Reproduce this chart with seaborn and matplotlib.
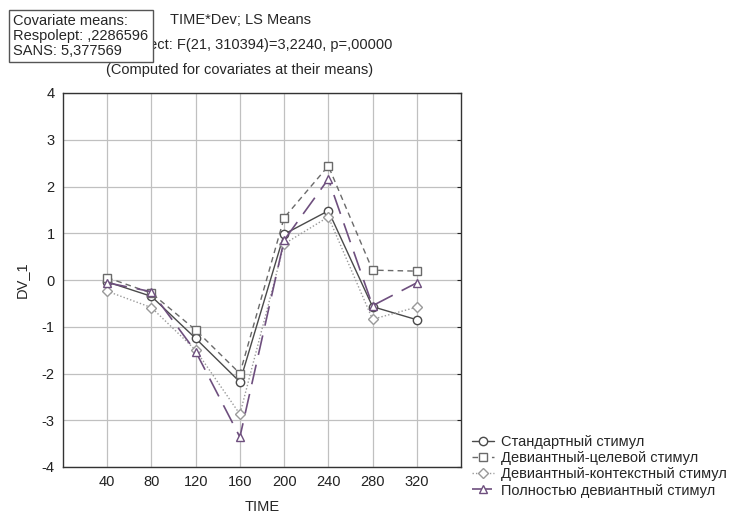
import numpy as np
import pandas as pd
import matplotlib
matplotlib.use("Agg")
import matplotlib.pyplot as plt
import seaborn as sns

time = [40, 80, 120, 160, 200, 240, 280, 320]
standard = [-0.04, -0.35, -1.25, -2.18, 0.98, 1.48, -0.57, -0.85]
target = [0.05, -0.28, -1.07, -2.0, 1.33, 2.44, 0.21, 0.19]
context = [-0.24, -0.59, -1.5, -2.87, 0.77, 1.35, -0.84, -0.58]
deviant = [-0.06, -0.25, -1.53, -3.36, 0.85, 2.16, -0.55, -0.06]

names = ["Стандартный стимул", "Девиантный-целевой стимул",
         "Девиантный-контекстный стимул", "Полностью девиантный стимул"]

sns.set_style("white")
plt.rcParams['font.family'] = ['Liberation Sans', 'DejaVu Sans']
plt.rcParams['axes.unicode_minus'] = False

fig = plt.figure(figsize=(7.29, 5.15), dpi=100)
ax = fig.add_axes([63/729, 48/515, 398/729, 374/515])

styles = [
    dict(color="#4a4a4a", ls="-", marker="o", lw=1.0),
    dict(color="#6a6a6a", ls=(0, (4, 3)), marker="s", lw=1.0),
    dict(color="#9a9a9a", ls=(0, (1, 1.5)), marker="D", lw=1.0),
    dict(color="#6e4f7e", ls=(0, (12, 6)), marker="^", lw=1.2),
]
series = [standard, target, context, deviant]

for vals, nm, st in zip(series, names, styles):
    df = pd.DataFrame({"TIME": time, "DV_1": vals})
    ms = 5 if st["marker"] == "D" else 6
    sns.lineplot(data=df, x="TIME", y="DV_1", ax=ax, color=st["color"],
                 linestyle=st["ls"], lw=st["lw"], marker=st["marker"],
                 markersize=ms, markerfacecolor="white",
                 markeredgecolor=st["color"], markeredgewidth=1.0, label=nm)

ax.set_xlim(0, 360)
ax.set_ylim(-4, 4)
ax.set_xticks(time)
ax.set_yticks(range(-4, 5))
ax.grid(True, color="#c0c0c0", lw=0.9)
ax.tick_params(direction="in", length=3, labelsize=10.5, right=True, top=False,
               colors="#222222", pad=6)
for s in ax.spines.values():
    s.set_color("#333333")
    s.set_linewidth(1.0)
ax.set_xlabel("TIME", fontsize=10.5, labelpad=8)
ax.set_ylabel("DV_1", fontsize=10.5, labelpad=9)

h, l = ax.get_legend_handles_labels()
ax.get_legend().remove()
fig.legend(h, l, loc="upper left", bbox_to_anchor=(472/729, 1 - 435/515),
           frameon=False, fontsize=10.5, handlelength=1.5, handletextpad=0.5,
           labelspacing=0.15, borderaxespad=0, borderpad=0)

fig.text(240/729, 1 - 20/515, "TIME*Dev; LS Means", ha="center", va="center", fontsize=10.5)
fig.text(236/729, 1 - 45/515, "Current effect: F(21, 310394)=3,2240, p=,00000",
         ha="center", va="center", fontsize=10.5)
fig.text(240/729, 1 - 70/515, "(Computed for covariates at their means)",
         ha="center", va="center", fontsize=10.5)
fig.text(13/729, 1 - 36/515, "Covariate means:\nRespolept: ,2286596\nSANS: 5,377569",
         ha="left", va="center", fontsize=10.5, linespacing=1.1,
         bbox=dict(boxstyle="square,pad=0.3", fc="white", ec="#555555", lw=1))

fig.savefig("out.png", dpi=100)
